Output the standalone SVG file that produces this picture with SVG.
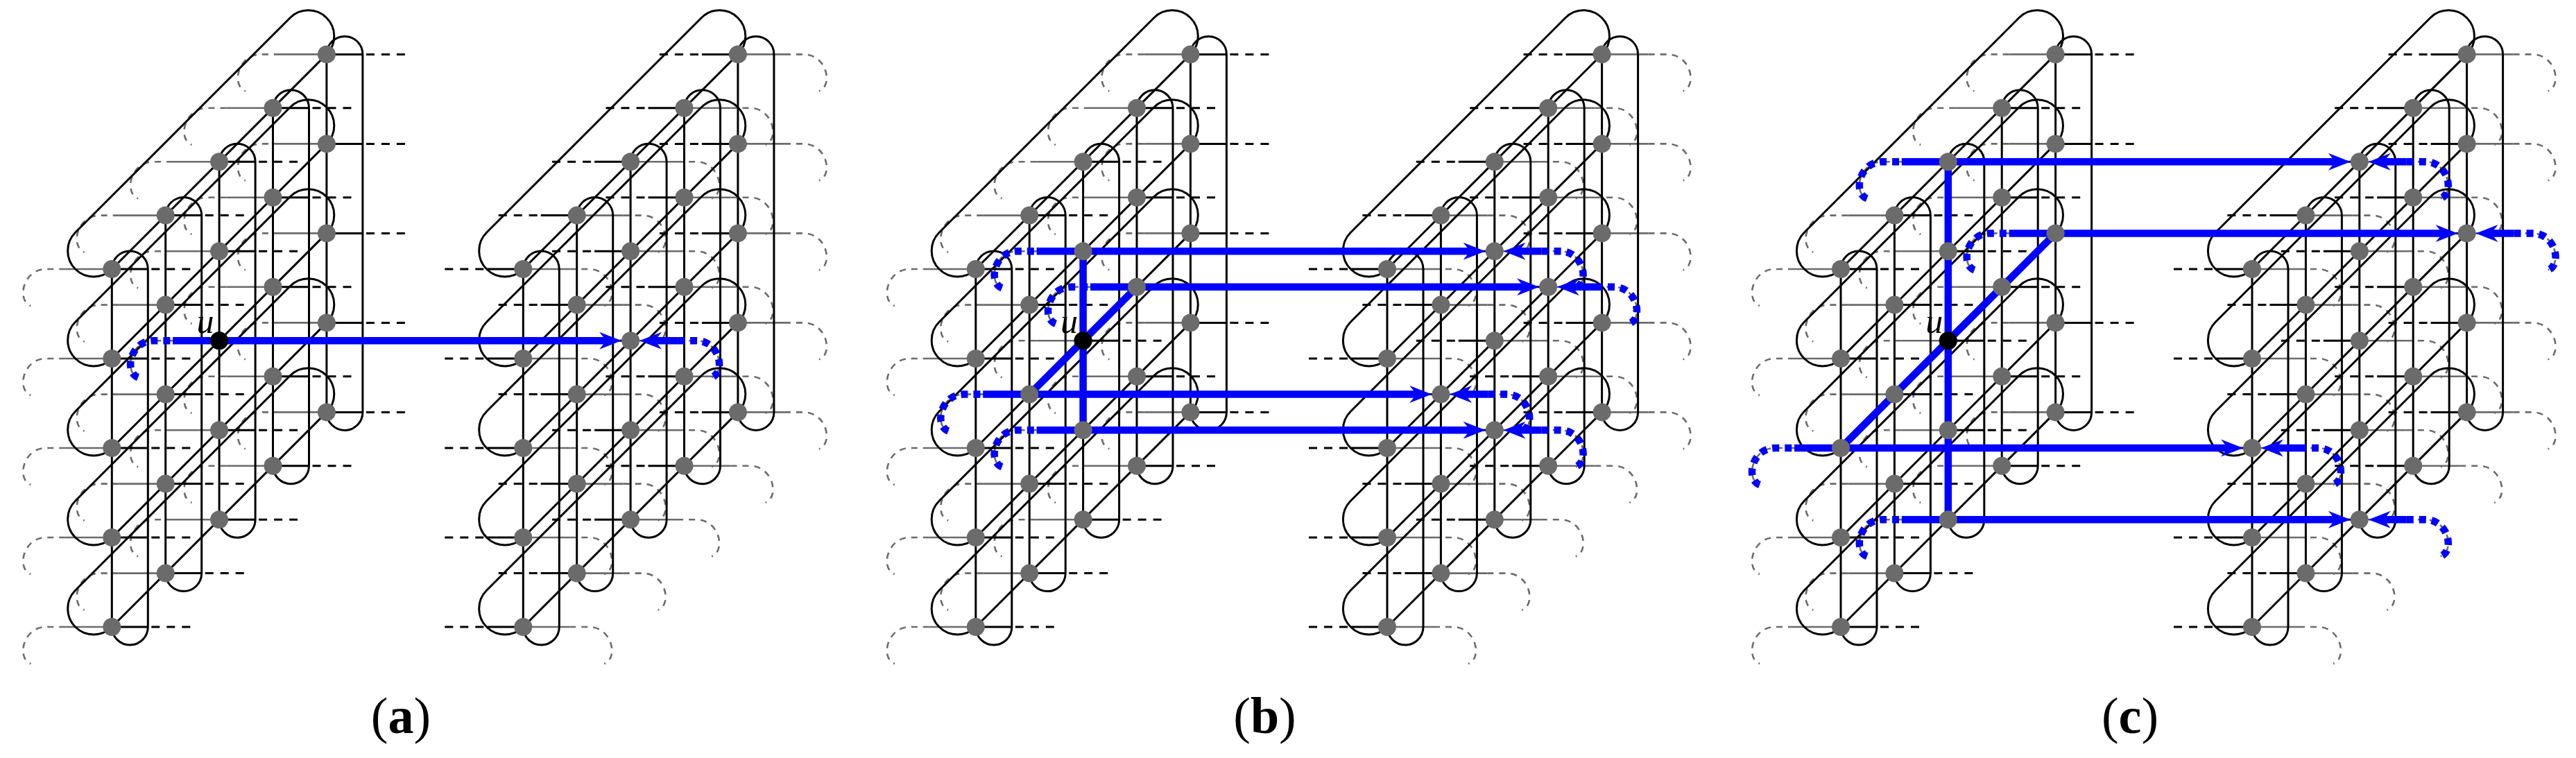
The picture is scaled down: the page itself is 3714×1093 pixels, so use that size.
<svg xmlns="http://www.w3.org/2000/svg" xmlns:xlink="http://www.w3.org/1999/xlink" width="3714" height="1093" viewBox="0 0 3714 1093">
<style>
.g{fill:none;stroke:#6b6b6b;stroke-width:2.6}
.gd{fill:none;stroke:#6b6b6b;stroke-width:2.6;stroke-dasharray:9 8}
.k{fill:none;stroke:#000;stroke-width:3}
.kd{fill:none;stroke:#000;stroke-width:3;stroke-dasharray:12 10}
.b{fill:none;stroke:#0000ff;stroke-width:10.5}
.bd{fill:none;stroke:#0000ff;stroke-width:10.5;stroke-dasharray:10 8}
.ah{fill:#0000ff}
.n{fill:#6b6b6b}
.lbl{font-family:"Liberation Serif",serif;font-size:74px;fill:#000}
.u{font-family:"Liberation Serif",serif;font-size:50px;font-style:italic;fill:#000}
</style>
<defs>
<g id="gsL"><path class="g" d="M0,0H-67"/><path class="gd" d="M-67,0H-95C-128,0 -138,45 -117,53"/></g>
<g id="gColL"><use href="#gsL"/><use href="#gsL" y="129"/><use href="#gsL" y="258"/><use href="#gsL" y="387"/><use href="#gsL" y="516"/></g>
<g id="ksL"><path class="k" d="M0,0H52"/><path class="kd" d="M57,0H116"/></g>
<g id="kStubsL"><use href="#ksL"/><use href="#ksL" y="129"/><use href="#ksL" y="258"/><use href="#ksL" y="387"/><use href="#ksL" y="516"/></g>
<path id="vLoop" class="k" d="M0,0A26,26 0 0 1 52,0V516A26,26 0 0 1 0,516Z"/>
<g id="kColL"><use href="#vLoop"/><use href="#kStubsL"/></g>
<g id="kColR"><use href="#vLoop"/><use href="#kStubsL" transform="scale(-1,1)"/></g>
<g id="gColR"><use href="#gColL" transform="scale(-1,1)"/></g>
<path id="rowLoop" class="k" d="M0,0A37.25,37.25 0 0 1 -52.7,-52.7L256.9,-362.3A37.25,37.25 0 0 1 309.6,-309.6Z"/>
<g id="rows"><use href="#rowLoop"/><use href="#rowLoop" y="129"/><use href="#rowLoop" y="258"/><use href="#rowLoop" y="387"/><use href="#rowLoop" y="516"/></g>
<g id="cubeL">
<use href="#gColL"/><use href="#gColL" transform="translate(77.4,-77.4)"/><use href="#gColL" transform="translate(154.8,-154.8)"/><use href="#gColL" transform="translate(232.2,-232.2)"/><use href="#gColL" transform="translate(309.6,-309.6)"/>
<use href="#kColL"/><use href="#kColL" transform="translate(77.4,-77.4)"/><use href="#kColL" transform="translate(154.8,-154.8)"/><use href="#kColL" transform="translate(232.2,-232.2)"/><use href="#kColL" transform="translate(309.6,-309.6)"/>
<use href="#rows"/>
</g>
<g id="cubeR">
<use href="#gColR"/><use href="#gColR" transform="translate(77.4,-77.4)"/><use href="#gColR" transform="translate(154.8,-154.8)"/><use href="#gColR" transform="translate(232.2,-232.2)"/><use href="#gColR" transform="translate(309.6,-309.6)"/>
<use href="#kColR"/><use href="#kColR" transform="translate(77.4,-77.4)"/><use href="#kColR" transform="translate(154.8,-154.8)"/><use href="#kColR" transform="translate(232.2,-232.2)"/><use href="#kColR" transform="translate(309.6,-309.6)"/>
<use href="#rows"/>
</g>
<g id="ncol"><circle class="n" r="13"/><circle class="n" cy="129" r="13"/><circle class="n" cy="258" r="13"/><circle class="n" cy="387" r="13"/><circle class="n" cy="516" r="13"/></g>
<g id="nodes"><use href="#ncol"/><use href="#ncol" transform="translate(77.4,-77.4)"/><use href="#ncol" transform="translate(154.8,-154.8)"/><use href="#ncol" transform="translate(232.2,-232.2)"/><use href="#ncol" transform="translate(309.6,-309.6)"/></g>
<g id="route">
<path class="bd" d="M-117,53C-138,45 -128,0 -95,0H-67"/>
<path class="b" d="M-67,0H558"/>
<polygon class="ah" points="580,0 548,-12.5 558,0 548,12.5"/>
<path class="b" d="M628,0H661"/>
<polygon class="ah" points="606,0 638,-12.5 628,0 638,12.5"/>
<path class="bd" d="M661,0H688C721,0 731,45 710,53"/>
</g>
</defs>

<g id="cubes">
<use id="a-left" href="#cubeL" x="161.3" y="388"/>
<use id="a-right" href="#cubeR" x="754.3" y="388"/>
<use id="b-left" href="#cubeL" x="1406.8" y="388"/>
<use id="b-right" href="#cubeR" x="2000" y="388"/>
<use id="c-left" href="#cubeL" x="2654" y="388"/>
<use id="c-right" href="#cubeR" x="3247" y="388"/>
</g>

<g id="connectors">
<use href="#route" x="316.1" y="491.2"/>
<use href="#route" x="1561.6" y="362.2"/>
<use href="#route" x="1639" y="413.8"/>
<use href="#route" x="1484.2" y="568.6"/>
<use href="#route" x="1561.6" y="620.2"/>
<path class="b" d="M1561.6,362.2V620.2M1484.2,568.6L1639,413.8"/>
<use href="#route" x="2808.8" y="233.2"/>
<use href="#route" x="2963.6" y="336.4"/>
<use href="#route" x="2654" y="646"/>
<use href="#route" x="2808.8" y="749.2"/>
<path class="b" d="M2808.8,233.2V749.2M2654,646L2963.6,336.4"/>
</g>

<g id="node-sets">
<use href="#nodes" x="161.3" y="388"/>
<use href="#nodes" x="754.3" y="388"/>
<use href="#nodes" x="1406.8" y="388"/>
<use href="#nodes" x="2000" y="388"/>
<use href="#nodes" x="2654" y="388"/>
<use href="#nodes" x="3247" y="388"/>
</g>

<g id="u-a"><circle cx="316.1" cy="491.2" r="13"/><text class="u" x="296" y="480" text-anchor="middle">u</text></g>
<g id="u-b"><circle cx="1561.6" cy="491.2" r="13"/><text class="u" x="1541.5" y="480" text-anchor="middle">u</text></g>
<g id="u-c"><circle cx="2808.8" cy="491.2" r="13"/><text class="u" x="2788.7" y="480" text-anchor="middle">u</text></g>

<g id="labels">
<text class="lbl" x="578" y="1057" text-anchor="middle">(<tspan font-weight="bold">a</tspan>)</text>
<text class="lbl" x="1823.5" y="1057" text-anchor="middle">(<tspan font-weight="bold">b</tspan>)</text>
<text class="lbl" x="3071" y="1057" text-anchor="middle">(<tspan font-weight="bold">c</tspan>)</text>
</g>
</svg>
